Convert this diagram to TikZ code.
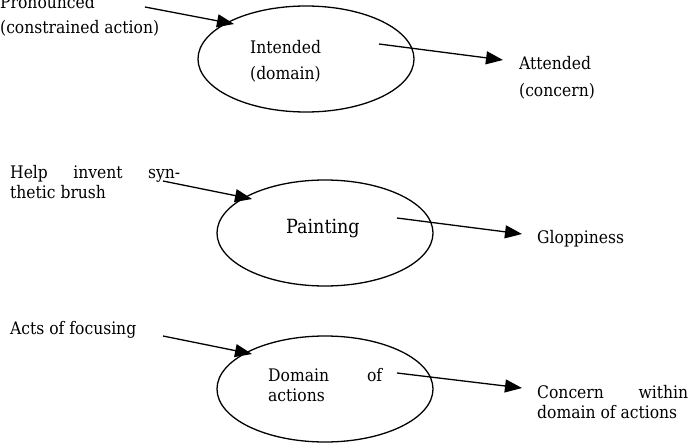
\documentclass[tikz,border=0pt]{standalone}
\usepackage{fontspec}
\setmainfont{DejaVu Serif Condensed}
\usetikzlibrary{arrows.meta,shapes.geometric}
\begin{document}
\begin{tikzpicture}[x=1pt,y=-1pt,
  lbl/.style={anchor=base west,inner sep=0pt,font=\fontsize{17.3}{20}\selectfont},
  oval/.style={draw,ellipse,line width=1.3pt,minimum width=216pt,minimum height=106pt,inner sep=0pt},
  conn/.style={line width=1.3pt,-{Triangle[length=17pt,width=13pt]}}]
\useasboundingbox (0,0) rectangle (690,444);
% ellipses
\node[oval] (e1) at (306,59) {};
\node[oval] (e2) at (325,233) {};
\node[oval] (e3) at (325,389) {};
% row 1
\node[lbl] (t1a) at (0,9) {Pronounced};
\node[lbl] (t1b) at (0,34) {(constrained action)};
\node[lbl] (t1c) at (250,53) {Intended};
\node[lbl] (t1d) at (250,79) {(domain)};
\node[lbl] (t1e) at (519,69) {Attended};
\node[lbl] (t1f) at (519,96) {(concern)};
% row 2
\node[lbl] (t2a) at (10,178) {\hbox to 170pt{Help\hfill invent\hfill syn-}};
\node[lbl] (t2b) at (10,198) {thetic brush};
\node[anchor=base west,inner sep=0pt,font=\fontsize{19.5}{22}\selectfont] (t2c) at (286,233) {Painting};
\node[lbl] (t2d) at (537,243) {Gloppiness};
% row 3
\node[lbl] (t3a) at (10,334) {Acts of focusing};
\node[lbl] (t3b) at (268,381) {\hbox to 114pt{Domain\hfill of}};
\node[lbl] (t3c) at (268,401) {actions};
\node[lbl] (t3d) at (537,398) {\hbox to 151pt{Concern\hfill within}};
\node[lbl] (t3e) at (537,418) {domain of actions};
% connector ends
\coordinate (a1s) at (145,7);  \coordinate (a1e) at (234,24);
\coordinate (a2s) at (379,44); \coordinate (a2e) at (503,60);
\coordinate (b1s) at (163,181); \coordinate (b1e) at (252,199);
\coordinate (b2s) at (397,218); \coordinate (b2e) at (522,234);
\coordinate (c1s) at (163,336); \coordinate (c1e) at (252,354);
\coordinate (c2s) at (397,373); \coordinate (c2e) at (522,388);
\draw[conn] (a1s) -- (a1e);
\draw[conn] (a2s) -- (a2e);
\draw[conn] (b1s) -- (b1e);
\draw[conn] (b2s) -- (b2e);
\draw[conn] (c1s) -- (c1e);
\draw[conn] (c2s) -- (c2e);
\end{tikzpicture}
\end{document}
